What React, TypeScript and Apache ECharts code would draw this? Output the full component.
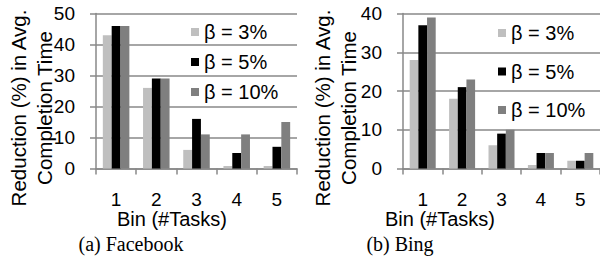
import React, { useEffect, useRef } from "react";
import * as echarts from "echarts";

const categories = ["1", "2", "3", "4", "5"];
const seriesNames = ["β = 3%", "β = 5%", "β = 10%"];
const fbBeta3 = [43, 26, 6, 0.8, 0.8];
const fbBeta5 = [46, 29, 16, 5, 7];
const fbBeta10 = [46, 29, 11, 11, 15];
const bingBeta3 = [28, 18, 6, 0.9, 2];
const bingBeta5 = [37, 21, 9, 4, 2];
const bingBeta10 = [39, 23, 10, 4, 4];
const fbMax = 50;
const bingMax = 40;
const yNameText = "Reduction (%) in Avg.\nCompletion Time";
const xNameText = "Bin (#Tasks)";
const captions = ["(a) Facebook", "(b) Bing"];

const colors = ["#bfbfbf", "#000000", "#7f7f7f"];
const SANS = "'Liberation Sans', Arial, sans-serif";
const SERIF = "'Liberation Serif', 'Times New Roman', serif";
const lineColor = "#888888";

export default function App() {
  const ref = useRef<HTMLDivElement>(null);
  useEffect(() => {
    if (!ref.current) return;
    const chart = echarts.init(ref.current, undefined, { renderer: "svg" });
    const mkX = (gridIndex: number) => ({
      type: "category",
      gridIndex,
      data: categories,
      axisLine: { lineStyle: { color: lineColor, width: 1.5 } },
      axisTick: { show: true, length: 6, lineStyle: { color: lineColor, width: 1.5 } },
      axisLabel: { fontFamily: SANS, fontSize: 19, lineHeight: 19, color: "#000", margin: 21 },
    });
    const mkY = (gridIndex: number, max: number) => ({
      type: "value",
      gridIndex,
      min: 0,
      max,
      interval: 10,
      axisLine: { show: true, lineStyle: { color: lineColor, width: 1.5 } },
      axisTick: { show: true, length: 6, lineStyle: { color: lineColor, width: 1.5 } },
      splitLine: { lineStyle: { color: lineColor, width: 1.5 } },
      axisLabel: { fontFamily: SANS, fontSize: 19, color: "#000", margin: 21 },
    });
    const mkSeries = (data: number[], i: number, idx: number) => ({
      type: "bar",
      name: seriesNames[i],
      xAxisIndex: idx,
      yAxisIndex: idx,
      data,
      barGap: "0%",
      barCategoryGap: "34%",
      itemStyle: { color: colors[i] },
    });
    const legendBase = {
      orient: "vertical",
      itemWidth: 8,
      itemHeight: 8,
      icon: "rect",
      data: seriesNames,
      textStyle: { fontFamily: SANS, fontSize: 20, color: "#000", lineHeight: 20 },
      selectedMode: false,
    };
    const textEl = (text: string, x: number, y: number, font: string, size: number, lh: number, rot = 0) => ({
      type: "text",
      x,
      y,
      rotation: rot,
      style: {
        text,
        fontFamily: font,
        fontSize: size,
        lineHeight: lh,
        fill: "#000",
        align: "center",
        verticalAlign: "middle",
      },
    });
    chart.setOption({
      animation: false,
      grid: [
        { left: 96, top: 13.5, width: 201, height: 155 },
        { left: 403, top: 13.5, width: 201, height: 155 },
      ],
      xAxis: [mkX(0), mkX(1)],
      yAxis: [mkY(0, fbMax), mkY(1, bingMax)],
      legend: [
        { ...legendBase, left: 186, top: 17, itemGap: 10 },
        { ...legendBase, left: 493, top: 18, itemGap: 18.5 },
      ],
      series: [
        mkSeries(fbBeta3, 0, 0),
        mkSeries(fbBeta5, 1, 0),
        mkSeries(fbBeta10, 2, 0),
        mkSeries(bingBeta3, 0, 1),
        mkSeries(bingBeta5, 1, 1),
        mkSeries(bingBeta10, 2, 1),
      ],
      graphic: [
        textEl(yNameText, 31, 108, SANS, 20.5, 26, Math.PI / 2),
        textEl(yNameText, 335, 108, SANS, 20.5, 26, Math.PI / 2),
        textEl(xNameText, 172, 219, SANS, 20, 20),
        textEl(xNameText, 440, 219, SANS, 20, 20),
        textEl(captions[0], 131, 244, SERIF, 20, 20),
        textEl(captions[1], 400, 244, SERIF, 20, 20),
      ],
    });
    return () => chart.dispose();
  }, []);
  return (
    <div
      ref={ref}
      style={{ position: "fixed", left: 0, top: 0, width: 600, height: 278, background: "#fff" }}
    />
  );
}
